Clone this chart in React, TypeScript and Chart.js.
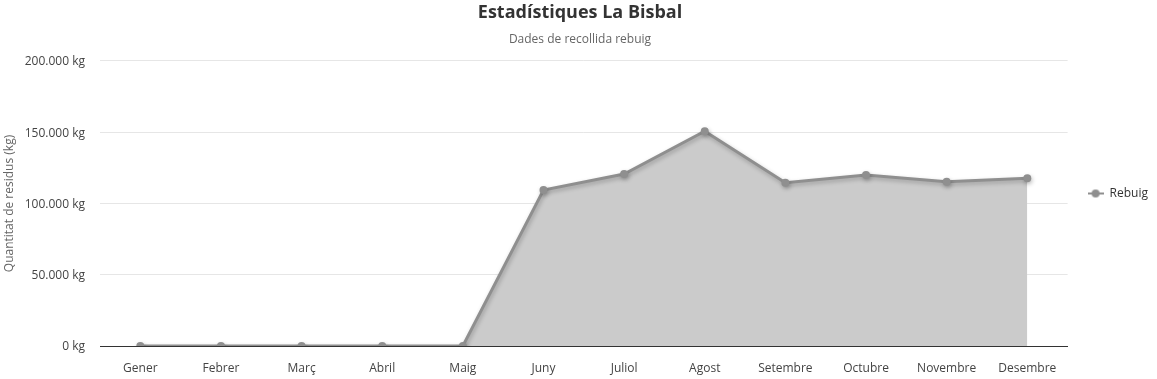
import React, { useEffect, useRef } from "react";
import { Chart, registerables } from "chart.js";

Chart.register(...registerables);

const months = ["Gener", "Febrer", "Març", "Abril", "Maig", "Juny", "Juliol", "Agost", "Setembre", "Octubre", "Novembre", "Desembre"];
const rebuig = [0, 0, 0, 0, 0, 109500, 120700, 150700, 114600, 120000, 115300, 117700];
const yTicks = [0, 50000, 100000, 150000, 200000];

const FONT = "'Open Sans', 'Noto Sans', sans-serif";

function fmt(v: number): string {
  const s = Math.round(v).toString();
  return s.replace(/\B(?=(\d{3})+(?!\d))/g, ".") + " kg";
}

function legendSymbol(): HTMLCanvasElement {
  const c = document.createElement("canvas");
  c.width = 16;
  c.height = 10;
  const ctx = c.getContext("2d")!;
  ctx.strokeStyle = "#8f8f8f";
  ctx.lineWidth = 2;
  ctx.beginPath();
  ctx.moveTo(0, 5);
  ctx.lineTo(16, 5);
  ctx.stroke();
  ctx.fillStyle = "#8f8f8f";
  ctx.beginPath();
  ctx.arc(8, 5, 4, 0, Math.PI * 2);
  ctx.fill();
  return c;
}

const shadowPlugin = {
  id: "lineShadow",
  beforeDatasetDraw(chart: any) {
    const ctx = chart.ctx;
    ctx.save();
    ctx.shadowColor = "rgba(0,0,0,0.25)";
    ctx.shadowBlur = 4;
    ctx.shadowOffsetX = 1;
    ctx.shadowOffsetY = 2;
  },
  afterDatasetDraw(chart: any) {
    chart.ctx.restore();
  },
};

export default function App() {
  const ref = useRef<HTMLCanvasElement | null>(null);

  useEffect(() => {
    if (!ref.current) return;
    const chart = new Chart(ref.current, {
      type: "line",
      data: {
        labels: months,
        datasets: [
          {
            label: "Rebuig",
            data: rebuig,
            borderColor: "#8f8f8f",
            backgroundColor: "#cbcbcb",
            pointBackgroundColor: "#8f8f8f",
            pointBorderColor: "#8f8f8f",
            pointRadius: 4,
            pointBorderWidth: 0,
            borderWidth: 3,
            fill: "origin",
            tension: 0,
          },
        ],
      },
      options: {
        responsive: false,
        animation: false,
        layout: { padding: { left: 2, right: -1, top: 0, bottom: 0 } },
        plugins: {
          title: {
            display: true,
            text: "Estadístiques La Bisbal",
            color: "#333333",
            font: { family: FONT, size: 18, weight: "bold" },
            padding: { top: 2, bottom: 9 },
          },
          subtitle: {
            display: true,
            text: "Dades de recollida rebuig",
            color: "#666666",
            font: { family: FONT, size: 12 },
            padding: { top: 0, bottom: 14 },
          },
          legend: {
            position: "right",
            title: {
              display: true,
              text: " ",
              font: { family: FONT, size: 5 },
              padding: { top: 0, bottom: 2 },
            },
            labels: {
              usePointStyle: true,
              pointStyle: legendSymbol() as any,
              pointStyleWidth: 16,
              color: "#333333",
              font: { family: FONT, size: 12 },
              padding: 20,
            },
          },
          tooltip: { enabled: false },
        },
        scales: {
          x: {
            offset: true,
            grid: { display: false, drawTicks: false },
            border: { display: true, color: "#333333", width: 1 },
            ticks: { color: "#444444", font: { family: FONT, size: 12 }, padding: 15, maxRotation: 0, autoSkip: false },
            afterFit: (scale: any) => {
              scale.height = 33;
            },
          },
          y: {
            min: 0,
            max: 200000,
            afterBuildTicks: (scale: any) => {
              scale.ticks = yTicks.map((v) => ({ value: v }));
            },
            afterFit: (scale: any) => {
              scale.width = 98;
            },
            grid: { color: "#e6e6e6", drawTicks: false },
            border: { display: false },
            ticks: {
              color: "#444444",
              font: { family: FONT, size: 12 },
              padding: 15,
              labelOffset: 1,
              callback: (v: any) => fmt(Number(v)),
            },
            title: {
              display: true,
              text: "Quantitat de residus (kg)",
              color: "#666666",
              font: { family: FONT, size: 12 },
              padding: { top: 0, bottom: 5 },
            },
          },
        },
      },
      plugins: [shadowPlugin],
    });
    return () => chart.destroy();
  }, []);

  return (
    <div style={{ position: "absolute", left: 0, top: 0, width: 1157, height: 379, background: "#fff" }}>
      <canvas ref={ref} width={1157} height={379} />
    </div>
  );
}
